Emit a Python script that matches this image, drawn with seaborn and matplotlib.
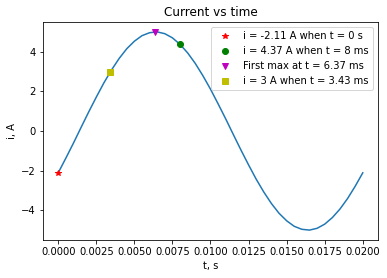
import matplotlib
matplotlib.use("Agg")
import matplotlib.pyplot as plt
import seaborn as sns
import pandas as pd

# Curve samples (t in s, i in A)
t_values = [0.0005 * k for k in range(41)]
i_values = [-2.11, -1.37, -0.61, 0.18, 0.96, 1.71, 2.43, 3.08, 3.66, 4.15,
            4.53, 4.81, 4.96, 5.00, 4.91, 4.70, 4.37, 3.94, 3.41, 2.79,
            2.11, 1.37, 0.61, -0.18, -0.96, -1.71, -2.43, -3.08, -3.66, -4.15,
            -4.53, -4.81, -4.96, -5.00, -4.91, -4.70, -4.37, -3.94, -3.41, -2.79,
            -2.11]

# Marked points
point_t = [0.0, 0.008, 0.00637, 0.00343]
point_i = [-2.11, 4.37, 5.00, 3.00]
point_labels = ["i = -2.11 A when t = 0 s",
                "i = 4.37 A when t = 8 ms",
                "First max at t = 6.37 ms",
                "i = 3 A when t = 3.43 ms"]
point_styles = ["r*", "go", "mv", "ys"]

x_ticks = [0.0, 0.0025, 0.005, 0.0075, 0.01, 0.0125, 0.015, 0.0175, 0.02]
y_ticks = [-4, -2, 0, 2, 4]

W, H, DPI = 387, 278, 72
fig = plt.figure(figsize=(W / DPI, H / DPI), dpi=DPI)
ax = fig.add_axes([43 / W, 1 - 240 / H, (378 - 43) / W, (240 - 22) / H])

df = pd.DataFrame({"t": t_values, "i": i_values})
sns.lineplot(data=df, x="t", y="i", ax=ax, color="#1f77b4", linewidth=1.5)

for tx, iy, lab, st in zip(point_t, point_i, point_labels, point_styles):
    ax.plot([tx], [iy], st, label=lab)

ax.set_xticks(x_ticks)
ax.set_xticklabels([f"{v:.4f}" for v in x_ticks])
ax.set_yticks(y_ticks)
ax.set_yticklabels([f"\u2212{abs(v)}" if v < 0 else str(v) for v in y_ticks])
ax.set_xlim(-0.001, 0.021)
ax.set_ylim(-5.5, 5.5)
ax.set_xlabel("t, s")
ax.set_ylabel("i, A")
ax.set_title("Current vs time")
ax.legend(loc="upper right")

fig.savefig("out.png", dpi=DPI)
